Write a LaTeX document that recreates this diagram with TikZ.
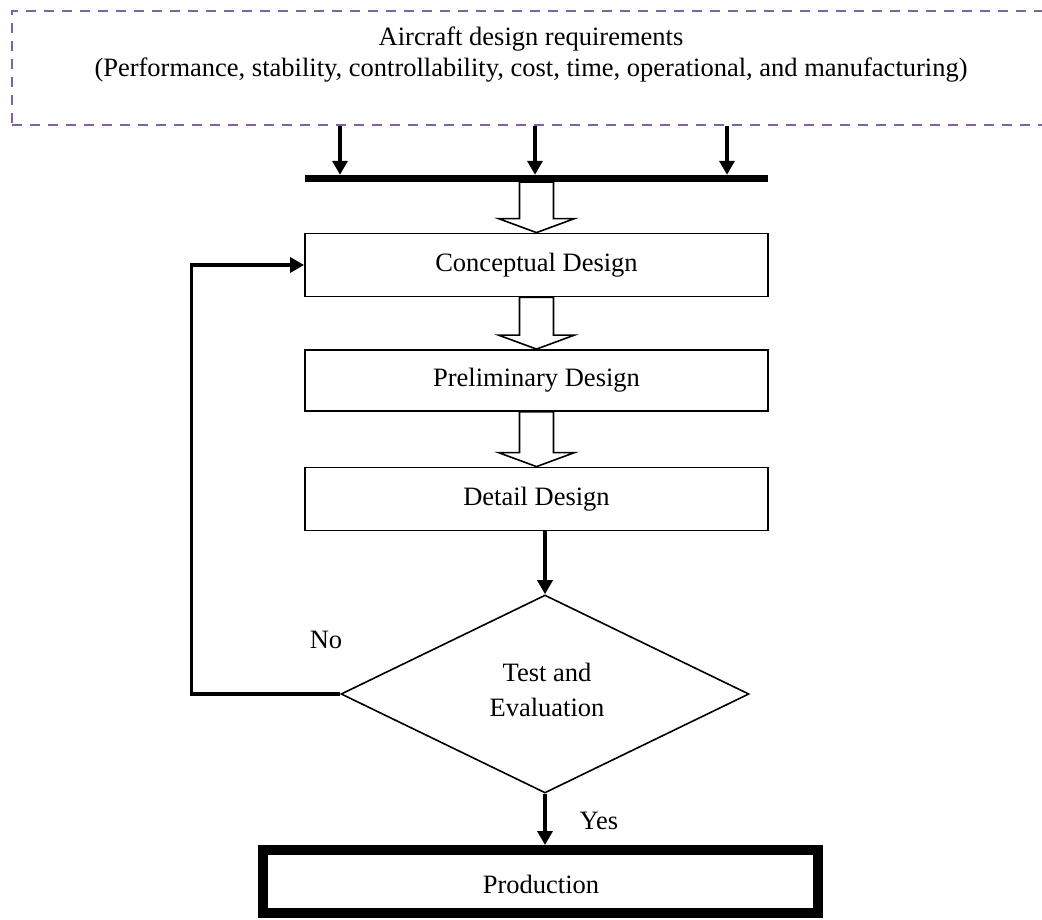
\documentclass[tikz,border=0pt]{standalone}
\usepackage{fontspec}
\setmainfont{Liberation Serif}
\usetikzlibrary{arrows.meta,shapes.geometric,calc}
\definecolor{reqpurple}{RGB}{128,100,162}
\tikzset{
  reqbox/.style={draw=reqpurple,line width=2pt,dash pattern=on 10pt off 8pt},
  stagebox/.style={draw,line width=1.8pt,minimum width=463pt,minimum height=63pt,inner sep=0pt,font=\fontsize{26.5}{31}\selectfont},
  decision/.style={draw,diamond,line width=1.6pt,minimum width=408pt,minimum height=198pt,inner sep=0pt,aspect=2.06},
  arr/.style={line width=3.4pt,-{Triangle[length=14pt,width=15pt]}},
  hollow/.style={draw,line width=1.6pt,fill=white,line join=miter},
  lbl/.style={font=\fontsize{26.5}{31}\selectfont,inner sep=0pt},
}
\newcommand{\hollowarrow}[2]{%
  \path[hollow] let \p1=(#1.south), \p2=(#2.north) in
    (\x2-17pt,\y1) -- (\x2-17pt,\y2+14pt) -- (\x2-38pt,\y2+14pt) -- (\x2,\y2)
    -- (\x2+38pt,\y2+14pt) -- (\x2+17pt,\y2+14pt) -- (\x2+17pt,\y1) -- cycle;}
\begin{document}
\begin{tikzpicture}[x=1pt,y=-1pt]
\useasboundingbox (0,0) rectangle (1042,920);
\begin{scope}
\clip (0,0) rectangle (1042,920);
\node[reqbox,minimum width=1080pt,minimum height=114pt,inner sep=0pt,anchor=north west] (req) at (11,10) {};
\end{scope}
\node[lbl,align=center] (reqtext) at (531,55) {Aircraft design requirements\\(Performance, stability, controllability, cost, time, operational, and manufacturing)};
\node[fill=black,minimum width=463pt,minimum height=7pt,inner sep=0pt] (bar) at (536.5,178.5) {};
\coordinate (a1) at (340,0);
\coordinate (a2) at (535,0);
\coordinate (a3) at (727,0);
\draw[arr] (req.south -| a1) -- (bar.north -| a1);
\draw[arr] (req.south -| a2) -- (bar.north -| a2);
\draw[arr] (req.south -| a3) -- (bar.north -| a3);
\node[stagebox] (cd) at (536.5,265) {Conceptual Design};
\node[stagebox,minimum height=61pt] (pd) at (536.5,380.5) {Preliminary Design};
\node[stagebox] (dd) at (536.5,499) {Detail Design};
\hollowarrow{bar}{cd}
\hollowarrow{cd}{pd}
\hollowarrow{pd}{dd}
\node[decision] (te) at (545,694) {};
\node[lbl,align=center,font=\fontsize{26.5}{35}\selectfont] (tetext) at (547,690) {Test and\\Evaluation};
\draw[arr] (dd.south -| te.north) -- (te.north);
\node[minimum width=557pt,minimum height=65pt,draw,line width=8pt,inner sep=0pt] (prod) at (540.5,881.5) {};
\draw[line width=2.4pt] ($(prod.north west)+(9,9)$) rectangle ($(prod.south east)+(-9,-9)$);
\node[lbl] (prodtext) at (541,884) {Production};
\draw[arr] (te.south) -- (prod.north -| te.south);
\draw[arr] (te.west) -- ++(-149,0) |- (cd.west);
\node[lbl] (no) at (326,640) {No};
\node[lbl] (yes) at (599,821) {Yes};
\end{tikzpicture}
\end{document}
